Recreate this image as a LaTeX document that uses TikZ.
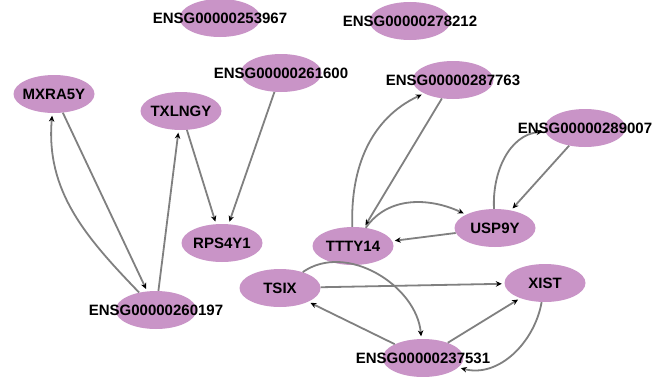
\documentclass[tikz,border=0pt]{standalone}
\usepackage{fontspec}
\setmainfont{Liberation Sans}
\usetikzlibrary{shapes.geometric,arrows.meta}
\definecolor{genefill}{RGB}{201,148,199}
\definecolor{edgegray}{RGB}{128,128,128}
\tikzset{
  gene/.style={ellipse, fill=genefill, minimum width=81pt, minimum height=38pt, inner sep=0pt},
  lbl/.style={font=\bfseries\fontsize{15}{17}\selectfont, text=black, inner sep=0pt},
  edge/.style={draw=edgegray, line width=1.8pt, shorten >=2.5pt,
    -{Stealth[black, length=6pt, width=5.5pt]}}
}
\begin{document}
\begin{tikzpicture}[x=1pt, y=1pt]
\useasboundingbox (0,0) rectangle (669,376);
\fill[white] (0,0) rectangle (669,376);

% gene nodes
\node[gene] (g253967) at (220,358) {};
\node[gene] (g278212) at (410,355) {};
\node[gene] (g261600) at (281,303) {};
\node[gene] (mxra5y)  at (54,282)  {};
\node[gene] (txlngy)  at (181,265) {};
\node[gene] (rps4y1)  at (222,133) {};
\node[gene] (g287763) at (453,296) {};
\node[gene] (g289007) at (585,248) {};
\node[gene] (usp9y)   at (495,148) {};
\node[gene] (ttty14)  at (353,130) {};
\node[gene] (tsix)    at (280,88)  {};
\node[gene] (xist)    at (545,93)  {};
\node[gene] (g237531) at (423,18)  {};
\node[gene] (g260197) at (156,66)  {};

% regulatory edges
\draw[edge] (mxra5y) -- (g260197);
\draw[edge] (g260197) to[out=134, in=-95] (mxra5y);
\draw[edge] (g260197) -- (txlngy);
\draw[edge] (txlngy) -- (rps4y1);
\draw[edge] (g261600) -- (rps4y1);
\draw[edge] (g287763) -- (ttty14);
\draw[edge] (ttty14) to[out=92, in=205] (g287763);
\draw[edge] (ttty14) to[out=55, in=155] (usp9y);
\draw[edge] (usp9y) -- (ttty14);
\draw[edge] (g289007) -- (usp9y);
\draw[edge] (usp9y) to[out=93, in=185] (g289007);
\draw[edge] (tsix) -- (xist);
\draw[edge] (tsix) to[out=35, in=95] (g237531);
\draw[edge] (g237531) -- (tsix);
\draw[edge] (g237531) -- (xist);
\draw[edge] (xist) to[out=-100, in=-15] (g237531);

% labels on top
\node[lbl] (t253967) at (g253967) {ENSG00000253967};
\node[lbl] (t278212) at (g278212) {ENSG00000278212};
\node[lbl] (t261600) at (g261600) {ENSG00000261600};
\node[lbl] (tmxra5y) at (mxra5y) {MXRA5Y};
\node[lbl] (ttxlngy) at (txlngy) {TXLNGY};
\node[lbl] (trps4y1) at (rps4y1) {RPS4Y1};
\node[lbl] (t287763) at (g287763) {ENSG00000287763};
\node[lbl] (t289007) at (g289007) {ENSG00000289007};
\node[lbl] (tusp9y) at (usp9y) {USP9Y};
\node[lbl] (tttty14) at (ttty14) {TTTY14};
\node[lbl] (ttsix) at (tsix) {TSIX};
\node[lbl] (txist) at (xist) {XIST};
\node[lbl] (t237531) at (g237531) {ENSG00000237531};
\node[lbl] (t260197) at (g260197) {ENSG00000260197};
\end{tikzpicture}
\end{document}
